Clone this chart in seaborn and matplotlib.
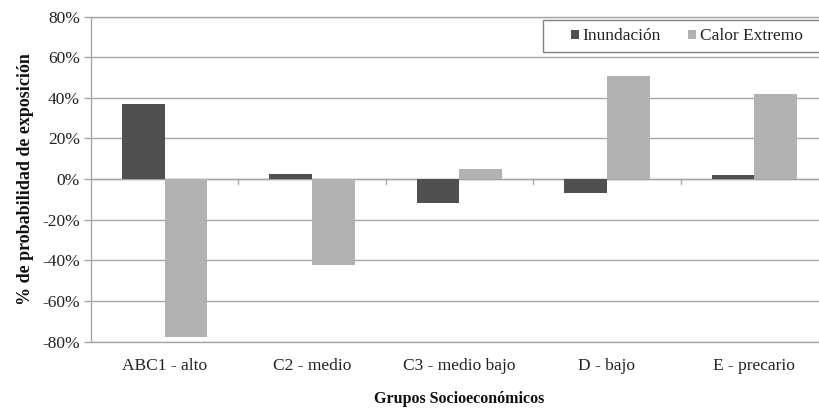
import matplotlib
matplotlib.use("Agg")
import matplotlib.pyplot as plt
import seaborn as sns
import pandas as pd
from matplotlib.ticker import FuncFormatter
from matplotlib.patches import Rectangle

categories = ["ABC1 - alto", "C2 - medio", "C3 - medio bajo", "D - bajo", "E - precario"]
inundacion = [36.9, 2.6, -11.9, -6.8, 2.0]
calor_extremo = [-77.8, -42.3, 4.9, 50.6, 41.9]
series_names = ["Inundación", "Calor Extremo"]
yticks = [-80, -60, -40, -20, 0, 20, 40, 60, 80]

df = pd.DataFrame({
    "grupo": categories * 2,
    "serie": [series_names[0]] * len(categories) + [series_names[1]] * len(categories),
    "valor": inundacion + calor_extremo,
})

sns.set_theme(style="white")
plt.rcParams["font.family"] = ["Liberation Serif", "DejaVu Serif"]

W, H = 820, 408
fig = plt.figure(figsize=(8.2, 4.08), dpi=100)
ax = fig.add_axes([91 / W, 1 - 341.7 / H, (828 - 91) / W, (341.7 - 16.5) / H])

grid_c = "#a6a6a6"
sns.barplot(data=df, x="grupo", y="valor", hue="serie", order=categories,
            hue_order=series_names, palette=["#505050", "#b2b2b2"],
            width=0.58, gap=0, linewidth=0, saturation=1, ax=ax, zorder=3)

ax.set_ylim(-80, 80)
ax.set_xlim(-0.5, len(categories) - 0.5)
ax.set_yticks(yticks)
ax.yaxis.set_major_formatter(FuncFormatter(lambda v, p: f"{v:.0f}%"))
ax.grid(axis="y", color=grid_c, linewidth=1.0, zorder=0)
ax.set_axisbelow(True)
for s in ["top", "right", "bottom"]:
    ax.spines[s].set_visible(False)
ax.spines["left"].set_color(grid_c)
ax.spines["left"].set_linewidth(1.0)
ax.tick_params(axis="y", left=True, length=5, color=grid_c, width=1.0,
               labelsize=12.5, pad=3, labelcolor="#222222")
ax.tick_params(axis="x", bottom=False, labelsize=12.5, pad=6, labelcolor="#222222")

# bottom and top gridlines drawn unclipped at the axis limits
ax.axhline(yticks[0], color=grid_c, linewidth=1.0, clip_on=False, zorder=1)
ax.axhline(yticks[-1], color=grid_c, linewidth=1.0, clip_on=False, zorder=1)

# category axis drawn at zero with boundary ticks
ax.axhline(0, color=grid_c, linewidth=1.0, zorder=2)
for b in range(1, len(categories)):
    ax.plot([b - 0.5, b - 0.5], [0, -2.4], color=grid_c, linewidth=1.0, zorder=2)

ax.set_xlabel("Grupos Socioeconómicos", fontsize=11.5, fontweight="bold",
              labelpad=12, color="#111111")
ax.set_ylabel("% de probabilidad de exposición", fontsize=13, fontweight="bold",
              labelpad=6, color="#111111")

# legend frame (Excel-style box running off the right edge)
fig.patches.append(Rectangle((543 / W, 1 - 52 / H), (835 - 543) / W, 32 / H,
                             transform=fig.transFigure, facecolor="white",
                             edgecolor="#808080", linewidth=1.0, zorder=5))
leg = fig.legend(*ax.get_legend_handles_labels(), loc="center left",
                 bbox_to_anchor=(571 / W, 1 - 36.5 / H), ncol=2, frameon=False,
                 fontsize=12.5, handlelength=0.45, handleheight=0.45,
                 handletextpad=0.2, columnspacing=1.6, borderpad=0,
                 borderaxespad=0)
leg.set_zorder(6)
ax.get_legend().remove()
for t in leg.get_texts():
    t.set_color("#222222")

fig.savefig("out.png", dpi=100)
